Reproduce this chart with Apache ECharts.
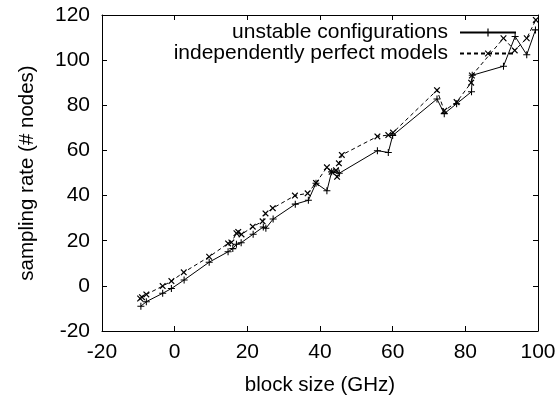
<!DOCTYPE html>
<html>
<head>
<meta charset="utf-8">
<script src="https://cdn.jsdelivr.net/npm/echarts@6/dist/echarts.min.js"></script>
<style>
	html, body { margin: 0; padding: 0; background: #fff; }
	#chart { width: 560px; height: 395px; }
</style>
</head>
<body>
<div id="chart"></div>
<script>
"use strict";

// [block size, sampling rate]
var unstable = [
	[-9.3, -9.0], [-7.8, -7.0], [-3.3, -3.3], [-0.9, -1.2], [2.6, 2.6],
	[9.5, 10.5], [14.7, 15.1], [16.0, 16.5], [17.0, 18.4], [18.3, 19.1],
	[21.6, 22.9], [24.4, 26.1], [25.1, 25.5], [27.1, 29.6], [33.2, 36.2],
	[36.8, 37.9], [38.9, 45.5], [41.9, 42.1], [43.2, 50.5], [45.3, 49.9],
	[55.8, 59.9], [58.8, 59.1], [60.0, 66.6], [72.2, 82.8], [74.2, 76.3],
	[77.6, 80.7], [81.7, 86.0], [81.9, 93.3], [90.5, 97.3], [93.7, 110.5],
	[96.9, 102.4], [99.3, 113.4]
];
var perfect = [
	[-9.5, -5.6], [-9.0, -5.0], [-7.8, -3.8], [-3.3, -0.1], [-0.9, 2.1],
	[2.5, 6.0], [9.5, 12.9], [14.7, 18.8], [15.6, 19.2], [17.0, 23.3],
	[17.5, 23.9], [18.4, 22.8], [21.5, 26.2], [24.2, 28.6], [25.0, 32.1],
	[27.0, 34.4], [33.1, 40.0], [36.6, 41.0], [38.9, 45.6], [41.9, 52.5],
	[43.2, 50.5], [44.4, 51.2], [44.7, 48.3], [45.2, 54.3], [46.0, 58.0],
	[55.8, 66.2], [58.8, 66.8], [60.1, 67.9], [72.2, 86.7], [74.2, 77.6],
	[77.6, 81.4], [81.6, 90.0], [81.8, 93.2], [90.5, 109.7], [93.6, 104.3],
	[96.9, 109.7], [99.4, 117.8]
];
var seriesNames = ['unstable configurations', 'independently perfect models'];
var xRange = { min: -20, max: 100, step: 20 };
var yRange = { min: -20, max: 120, step: 20 };

var font = 'Liberation Sans';
var plusPath = 'path://M-0.15,-1H0.15V-0.15H1V0.15H0.15V1H-0.15V0.15H-1V-0.15H-0.15Z';

var myChart = echarts.init(document.getElementById('chart'), null, { renderer: 'canvas' });

function makeAxis(dim, pos, range, showLabels, name, gap) {
	return {
		type: 'value',
		position: pos,
		min: range.min,
		max: range.max,
		interval: range.step,
		name: name,
		nameLocation: 'middle',
		nameGap: gap,
		nameTextStyle: { fontFamily: font, fontSize: 20.5, color: '#000' },
		axisLine: { show: true, onZero: false, lineStyle: { color: '#000', width: 1 } },
		axisTick: { show: true, inside: true, length: 5, lineStyle: { color: '#000' } },
		axisLabel: {
			show: showLabels,
			fontFamily: font,
			fontSize: 21,
			color: '#000',
			margin: dim === 'x' ? 11 : 12
		},
		splitLine: { show: false }
	};
}

var option = {
	animation: false,
	backgroundColor: '#fff',
	grid: { left: 102, right: 22, top: 15, bottom: 64, outerBoundsMode: 'none' },
	legend: {
		orient: 'vertical',
		right: 38,
		top: 17,
		align: 'right',
		itemWidth: 56,
		itemHeight: 10,
		itemGap: 0,
		textStyle: { fontFamily: font, fontSize: 21, color: '#000', lineHeight: 19, padding: [0, 7, 0, 0] },
		data: seriesNames
	},
	xAxis: [
		makeAxis('x', 'bottom', xRange, true, 'block size (GHz)', 44),
		makeAxis('x', 'top', xRange, false, '', 0)
	],
	yAxis: [
		makeAxis('y', 'left', yRange, true, 'sampling rate (# nodes)', 64),
		makeAxis('y', 'right', yRange, false, '', 0)
	],
	series: [{
			name: seriesNames[0],
			type: 'line',
			data: unstable,
			symbol: plusPath,
			symbolSize: 7,
			showAllSymbol: true,
			lineStyle: { color: '#000', width: 1, type: 'solid' },
			itemStyle: { color: '#000' }
		}, {
			name: seriesNames[1],
			type: 'line',
			data: perfect,
			symbol: plusPath,
			symbolSize: 8,
			symbolRotate: 45,
			showAllSymbol: true,
			lineStyle: { color: '#000', width: 1, type: [4, 3] },
			itemStyle: { color: '#000' }
		}
	]
};

myChart.setOption(option);
</script>
</body>
</html>
